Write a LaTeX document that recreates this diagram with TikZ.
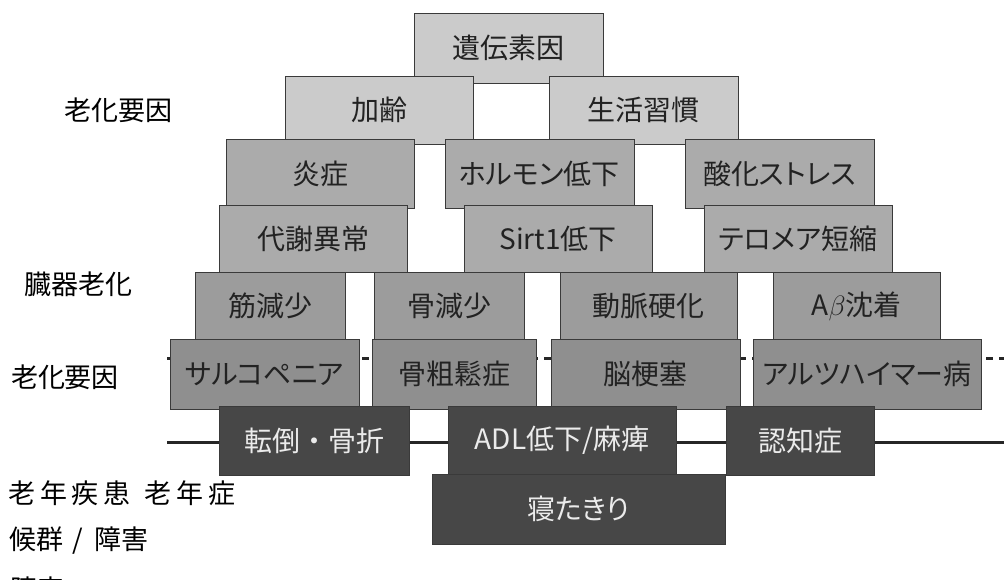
\documentclass[tikz,border=0pt]{standalone}
\usepackage{fix-cm}
\usepackage{fontspec}
\newfontfamily\jp[RawFeature=+palt]{Noto Sans CJK JP}
\newfontfamily\jplab{Noto Sans CJK JP}
\newfontfamily\jpsp[LetterSpace=18]{Noto Sans CJK JP}
\definecolor{cA}{HTML}{CBCBCB}
\definecolor{cB}{HTML}{ABABAB}
\definecolor{cC}{HTML}{9C9C9C}
\definecolor{cD}{HTML}{8F8F8F}
\definecolor{cE}{HTML}{474747}
\definecolor{bd}{HTML}{3A3A3A}
\definecolor{tx}{HTML}{222222}
\tikzset{
  box/.style={rectangle, draw=bd, line width=0.9pt, inner sep=0pt, outer sep=0pt,
    font=\jp\fontsize{28}{30}\selectfont, text=tx},
  boxA/.style={box, fill=cA},
  boxB/.style={box, fill=cB},
  boxC/.style={box, fill=cC},
  boxD/.style={box, fill=cD},
  boxE/.style={box, fill=cE, text=white!92!black},
  lab/.style={inner sep=0pt, font=\jplab\fontsize{27}{29}\selectfont, text=black},
  wh/.style={minimum width=#1},
  ht/.style={minimum height=#1},
  rule/.style={line width=3pt, draw=black!85},
}
\begin{document}
\begin{tikzpicture}[x=1pt,y=-1pt]
\useasboundingbox (0,0) rectangle (1004,580);
% lines behind boxes
\coordinate (dl) at (167,358);
\coordinate (dr) at (1004,358);
\coordinate (sl) at (167,442);
\coordinate (sr) at (1004,442);
\draw[rule, dash pattern=on 7pt off 6pt] (dl) -- (dr);
\draw[rule] (sl) -- (sr);
% level 1
\node[boxA, wh=189, ht=70] (iden) at (508.5,48) {遺伝素因};
\node[boxA, wh=188, ht=68] (karei) at (379,110) {加齢};
\node[boxA, wh=189, ht=68] (seikatsu) at (643.5,110) {生活習慣};
% level 2
\node[boxB, wh=188, ht=69] (ensho) at (320,173.5) {炎症};
\node[boxB, wh=189, ht=69] (horumon) at (539.5,173.5) {ホルモン低下};
\node[boxB, wh=189, ht=69] (sanka) at (779.5,173.5) {酸化ストレス};
\node[boxB, wh=188, ht=67] (taisha) at (313,238.5) {代謝異常};
\node[boxB, wh=188, ht=67] (sirt) at (558,238.5) {Sirt1低下};
\node[boxB, wh=188, ht=67] (telo) at (798,238.5) {テロメア短縮};
% level 3
\node[boxC, wh=150, ht=68] (kin) at (270,306) {筋減少};
\node[boxC, wh=150, ht=68] (kotsu) at (449,306) {骨減少};
\node[boxC, wh=177, ht=68] (doumyaku) at (648.5,306) {動脈硬化};
\node[boxC, wh=167, ht=68] (abeta) at (856.5,306) {A$\beta$沈着};
% level 4
\node[boxD, wh=189, ht=70] (sarco) at (264.5,374) {サルコペニア};
\node[boxD, wh=164, ht=70] (sosho) at (454,374) {骨粗鬆症};
\node[boxD, wh=189, ht=70] (nou) at (645.5,374) {脳梗塞};
\node[boxD, wh=228, ht=70] (alz) at (867,374) {アルツハイマー病};
% level 5
\node[boxE, wh=190, ht=69, font=\jplab\fontsize{28}{30}\selectfont] (tento) at (314,440.5) {転倒・骨折};
\node[boxE, wh=228, ht=69] (adl) at (562,440.5) {ADL低下/麻痺};
\node[boxE, wh=148, ht=69] (ninchi) at (800,440.5) {認知症};
\node[boxE, wh=293, ht=70] (netakiri) at (578.5,509) {寝たきり};
% left labels
\node[lab] (l1) at (118,110) {老化要因};
\node[lab] (l2) at (78,284) {臓器老化};
\node[lab] (l3) at (65,377) {老化要因};
\node[lab, anchor=west, font=\jpsp\fontsize{27}{29}\selectfont] (l4) at (8,493) {老年疾患\hspace{14pt}老年症};
\node[lab, anchor=west] (l5) at (9,541) {候群\hspace{9pt}/\hspace{12pt}障害};
\node[lab, anchor=west] (l6) at (10,589) {障害};
\end{tikzpicture}
\end{document}
